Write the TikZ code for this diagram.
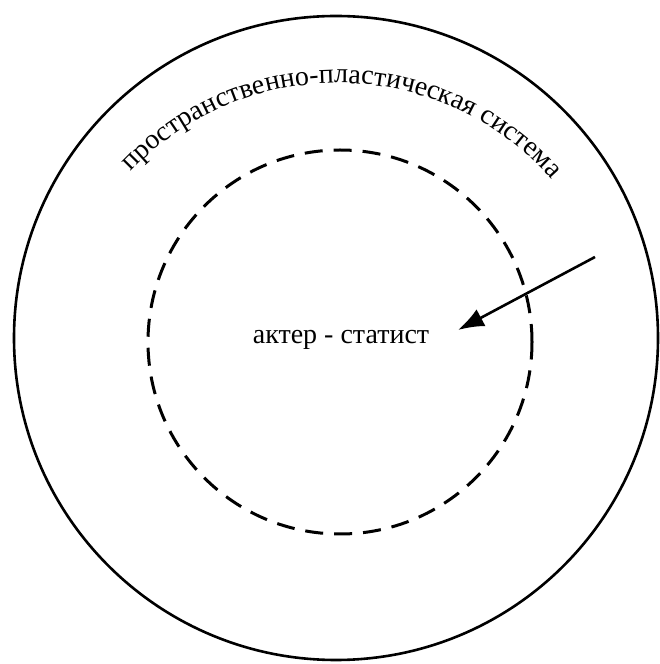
\documentclass[tikz,border=0pt]{standalone}
\usepackage{fontspec}
\setmainfont{Liberation Serif}
\usetikzlibrary{decorations.text,arrows.meta}
\begin{document}
\begin{tikzpicture}[x=1pt,y=1pt,
  outerring/.style={line width=2.6pt},
  innerring/.style={line width=3pt,dash pattern=on 18pt off 11pt},
  pointer/.style={line width=2.6pt,-{Latex[length=26pt,width=19pt]}},
  lbl/.style={font=\fontsize{28}{31}\selectfont,inner sep=0pt}]
\useasboundingbox (0,0) rectangle (660,664);
\fill[white] (0,0) rectangle (660,664);
\draw[outerring] (336,326) circle[radius=322];
\draw[innerring] (340,322) circle[radius=192];
\node[lbl] (actor) at (341,324) {актер - статист};
\coordinate (arrs) at (595,407);
\coordinate (arre) at (458,334);
\draw[pointer] (arrs) -- (arre);
\path[decorate,decoration={text along path,text align=center,
  text={|\fontsize{28}{31}\selectfont|пространственно-пластическая система}}]
  (338,296) ++(136:285) arc[start angle=136,end angle=42,radius=285];
\end{tikzpicture}
\end{document}
